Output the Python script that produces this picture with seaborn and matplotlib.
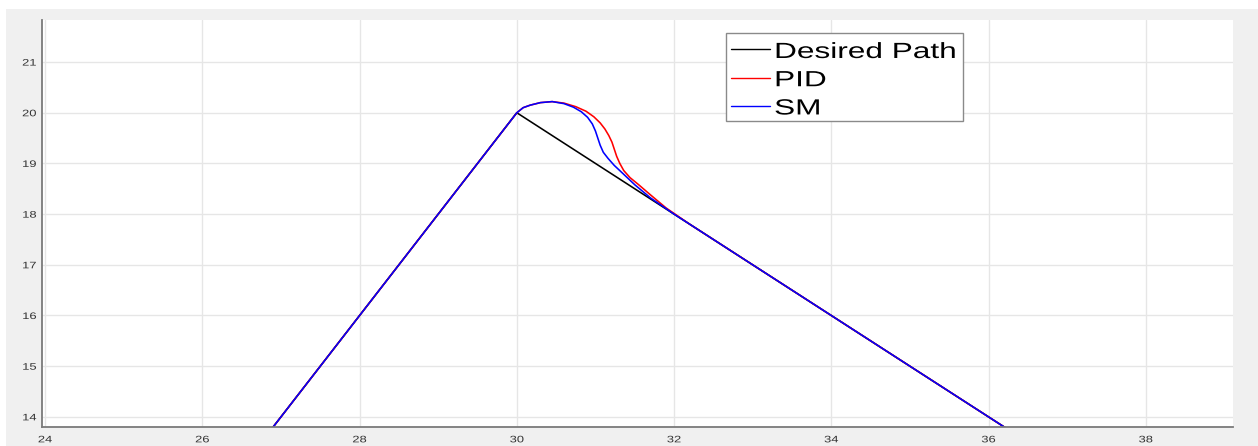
import matplotlib
matplotlib.use("Agg")
import matplotlib.pyplot as plt
import seaborn as sns
import pandas as pd
from matplotlib.patches import Rectangle
from matplotlib.patheffects import AbstractPathEffect
from matplotlib.transforms import Affine2D

# ---- data ----
desired_x = [26.0, 30.0, 38.0]
desired_y = [12.0, 20.0, 12.0]

pid_x = [26.0, 30.0, 30.08, 30.17, 30.3, 30.45, 30.6, 30.75, 30.88, 30.98, 31.06,
         31.12, 31.17, 31.21, 31.24, 31.27, 31.31, 31.36, 31.44, 31.55, 31.7, 31.9, 32.2, 38.0]
pid_y = [12.0, 20.0, 20.1, 20.15, 20.2, 20.22, 20.19, 20.12, 20.03, 19.92, 19.8,
         19.68, 19.55, 19.42, 19.28, 19.14, 19.0, 18.86, 18.72, 18.58, 18.38, 18.12, 17.8, 12.0]

sm_x = [26.0, 30.0, 30.08, 30.17, 30.3, 30.45, 30.6, 30.72, 30.82, 30.9, 30.96,
        31.0, 31.03, 31.06, 31.1, 31.16, 31.24, 31.35, 31.5, 31.7, 32.0, 38.0]
sm_y = [12.0, 20.0, 20.1, 20.15, 20.2, 20.22, 20.18, 20.11, 20.02, 19.91, 19.78,
        19.64, 19.5, 19.36, 19.22, 19.1, 18.96, 18.8, 18.58, 18.32, 18.0, 12.0]

series_names = ["Desired Path", "PID", "SM"]
x_ticks = [24, 26, 28, 30, 32, 34, 36, 38]
y_ticks = [14, 15, 16, 17, 18, 19, 20, 21]


class StretchX(AbstractPathEffect):
    """Stretch drawn text horizontally about a chosen anchor (optionally nudge vertically)."""
    def __init__(self, sx, anchor="left", dy=0.0):
        super().__init__()
        self.sx = sx
        self.anchor = anchor
        self.dy = dy

    def draw_path(self, renderer, gc, tpath, affine, rgbFace=None):
        bb = tpath.get_extents(affine)
        if self.anchor == "left":
            x0 = affine.get_matrix()[0, 2]
        elif self.anchor == "right":
            x0 = bb.x1
        else:
            x0 = 0.5 * (bb.x0 + bb.x1)
        new = affine + Affine2D().translate(-x0, 0).scale(self.sx, 1).translate(x0, self.dy)
        renderer.draw_path(gc, tpath, new, rgbFace)


# ---- build ----
df = pd.concat([
    pd.DataFrame({"x": desired_x, "y": desired_y, "s": series_names[0]}),
    pd.DataFrame({"x": pid_x, "y": pid_y, "s": series_names[1]}),
    pd.DataFrame({"x": sm_x, "y": sm_y, "s": series_names[2]}),
])

sns.set_style("white")
plt.rcParams['font.family'] = ['Liberation Sans', 'DejaVu Sans']

W, H = 1258, 446
fig = plt.figure(figsize=(W / 100, H / 100), dpi=100, facecolor="white")
fig.patches.append(Rectangle((6 / W, 0), 1 - 6 / W, 1 - 9 / H, transform=fig.transFigure,
                             facecolor="#f0f0f0", edgecolor="none", zorder=-10))
ax = fig.add_axes([42 / W, 1 - 427 / H, (1233 - 42) / W, (427 - 20) / H])
ax.set_facecolor("white")

palette = {"Desired Path": "#000000", "PID": "#ff0000", "SM": "#0000ff"}
for name in series_names:
    sub = df[df["s"] == name]
    sns.lineplot(x=sub["x"].values, y=sub["y"].values, sort=False, estimator=None,
                 color=palette[name], linewidth=1.15, ax=ax, label=name)

ax.set_xlim(23.96, 39.11)
ax.set_ylim(13.8, 21.83)
ax.set_xticks(x_ticks)
ax.set_yticks(y_ticks)
ax.grid(True, color="#e6e6e6", linewidth=1.0)
ax.set_axisbelow(True)
for s in ["top", "right"]:
    ax.spines[s].set_visible(False)
for s in ["left", "bottom"]:
    ax.spines[s].set_color("#7a7a7a")
    ax.spines[s].set_linewidth(1.3)
ax.tick_params(axis="both", direction="in", colors="#5a5a5a", labelcolor="#333333",
               labelsize=6.8, width=1.0)
ax.tick_params(axis="y", length=8, pad=4)
ax.tick_params(axis="x", length=6, pad=6)
ax.set_xlabel("")
ax.set_ylabel("")
for lab in ax.get_xticklabels():
    lab.set_path_effects([StretchX(1.37, "center")])
for lab in ax.get_yticklabels():
    lab.set_path_effects([StretchX(1.37, "right")])

leg = ax.legend(loc="upper left", bbox_to_anchor=(726 / W, 1 - 120 / H, 237 / W, 87 / H),
                bbox_transform=fig.transFigure, mode="expand", frameon=True, fancybox=False,
                fontsize=15.8, handlelength=1.76, handletextpad=0.18, borderpad=0.25,
                labelspacing=0.33, borderaxespad=0)
leg.get_frame().set_edgecolor("#8a8a8a")
leg.get_frame().set_linewidth(1.0)
leg.get_frame().set_alpha(1)
for line in leg.get_lines():
    line.set_linewidth(1.0)
    line.set_path_effects([StretchX(1.0, "left", dy=-2.5)])
for t in leg.get_texts():
    t.set_color("#000000")
    t.set_path_effects([StretchX(1.44, "left", dy=-3.5)])

fig.savefig("out.png", dpi=100, facecolor=fig.get_facecolor())
